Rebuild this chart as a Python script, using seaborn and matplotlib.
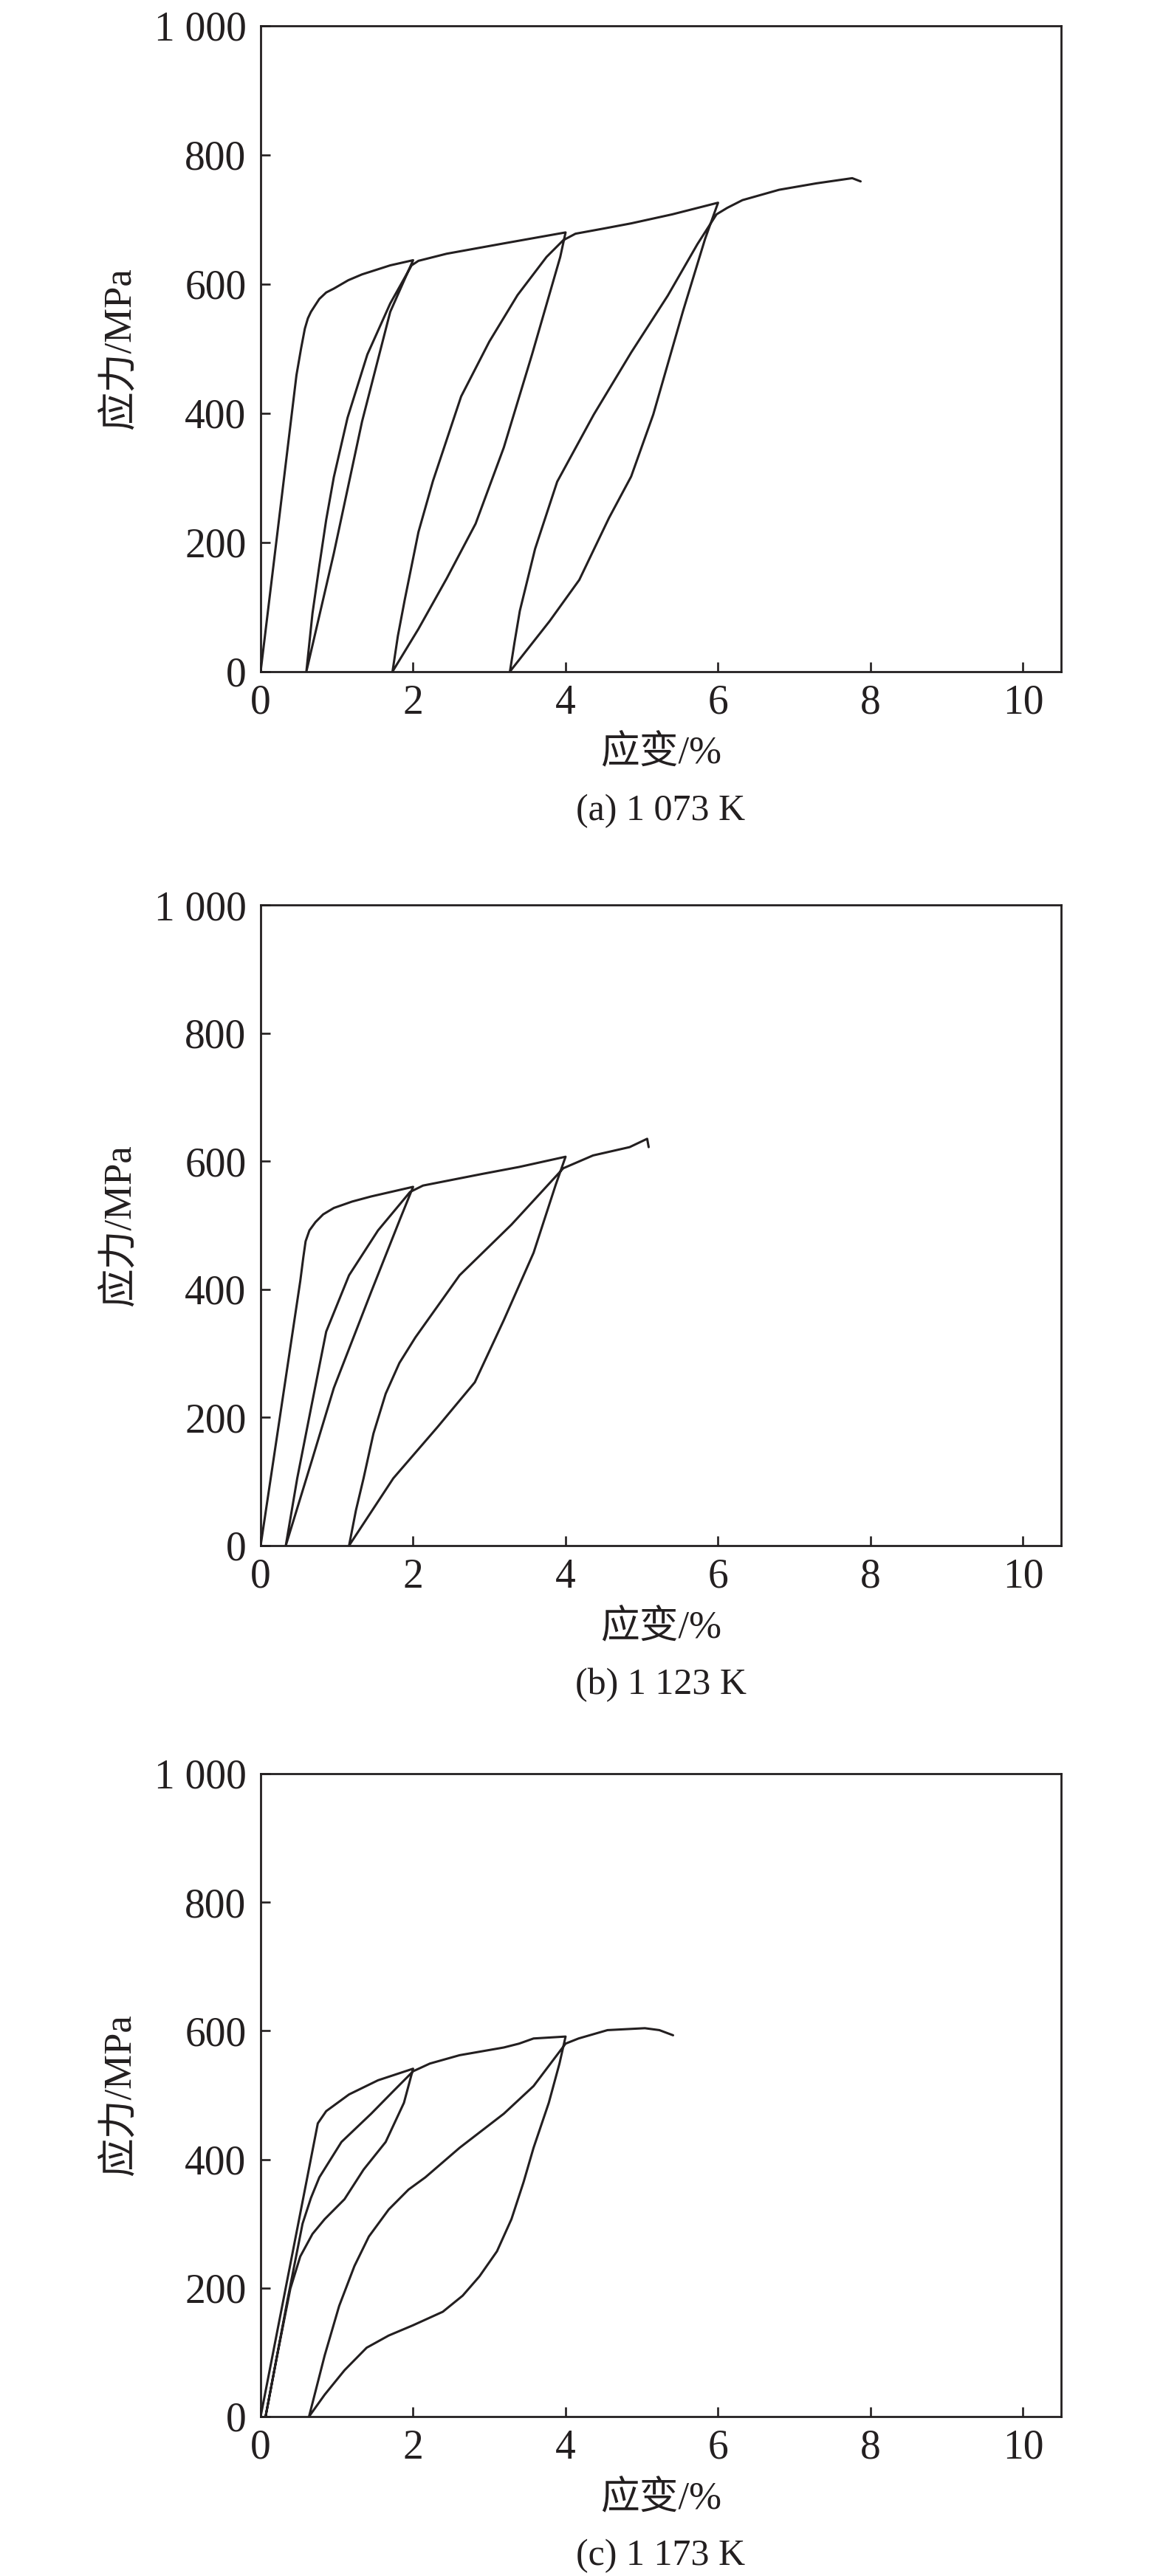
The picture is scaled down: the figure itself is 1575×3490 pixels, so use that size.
import numpy as np
import pandas as pd
import matplotlib
matplotlib.use('Agg')
import matplotlib.pyplot as plt
import seaborn as sns

# cyclic loading paths (strain %, stress MPa)
strain_a = [0, 0.47, 0.53, 0.58, 0.62, 0.66, 0.72, 0.77, 0.86, 0.96, 1.15, 1.33, 1.70, 2.0,
            1.70, 1.33, 0.96, 0.60,
            0.68, 0.77, 0.86, 0.96, 1.14, 1.40, 1.70, 1.98,
            2.07, 2.44, 3.19, 4.0,
            3.93, 3.56, 3.19, 2.82, 2.44, 2.07, 1.73,
            1.80, 1.89, 2.07, 2.26, 2.63, 3.0, 3.37, 3.75, 3.97,
            4.13, 4.5, 4.86, 5.4, 6.0,
            5.83, 5.54, 5.15, 4.86, 4.57, 4.18, 3.79, 3.27,
            3.33, 3.40, 3.6, 3.89, 4.37, 4.86, 5.34, 5.73, 5.98,
            6.12, 6.32, 6.8, 7.29, 7.76, 7.87]
stress_a = [0, 459, 500, 531, 547, 557, 568, 577, 587, 593, 606, 615, 629, 637,
            557, 387, 183, 0,
            90, 164, 235, 301, 393, 491, 570, 629,
            636, 647, 663, 680,
            642, 491, 347, 229, 144, 66, 0,
            55, 111, 216, 295, 426, 511, 583, 642, 668,
            678, 686, 694, 708, 726,
            670, 558, 398, 302, 238, 142, 78, 0,
            45, 94, 190, 294, 398, 494, 582, 662, 708,
            718, 730, 746, 756, 764, 759]

strain_b = [0, 0.52, 0.56, 0.59, 0.64, 0.72, 0.82, 0.96, 1.20, 1.45, 2.0,
            1.83, 1.45, 0.96, 0.67, 0.33,
            0.48, 0.67, 0.86, 1.16, 1.54, 1.96,
            2.13, 2.9, 3.39, 4.0,
            3.87, 3.58, 3.19, 2.81, 2.32, 1.74, 1.16,
            1.25, 1.35, 1.48, 1.64, 1.82, 2.03, 2.61, 3.29, 3.97,
            4.36, 4.84, 5.07, 5.09]
stress_b = [0, 413, 450, 475, 492, 505, 517, 527, 537, 545, 560,
            510, 396, 246, 132, 0,
            105, 220, 334, 422, 492, 552,
            562, 580, 591, 607,
            563, 457, 352, 255, 185, 105, 0,
            55, 105, 175, 237, 285, 325, 422, 501, 589,
            609, 622, 635, 622]

strain_c = [0, 0.75, 0.86, 1.16, 1.54, 2.0,
            1.88, 1.64, 1.35, 1.10, 0.84, 0.68, 0.52, 0.39, 0.23, 0.065,
            0.35, 0.55, 0.66, 0.77, 1.06, 1.45, 1.74, 2.0,
            2.22, 2.61, 3.19, 3.39, 3.58, 4.0,
            3.92, 3.78, 3.58, 3.45, 3.29, 3.10, 2.87, 2.65, 2.39, 2.0, 1.68, 1.39, 1.10, 0.84, 0.635,
            0.84, 1.03, 1.23, 1.42, 1.68, 1.94, 2.16, 2.61, 3.19, 3.58, 4.0,
            4.17, 4.55, 5.04, 5.23, 5.41]
stress_c = [0, 456, 475, 501, 523, 541,
            488, 427, 384, 338, 307, 284, 249, 199, 103, 0,
            180, 300, 340, 372, 427, 471, 506, 537,
            549, 562, 574, 580, 588, 591,
            549, 488, 418, 365, 307, 257, 218, 188, 163, 142, 126, 107, 72, 34, 0,
            95, 172, 234, 280, 322, 353, 372, 418, 471, 514, 580,
            588, 601, 604, 601, 593]

captions = ['(a) 1 073 K', '(b) 1 123 K', '(c) 1 173 K']
x_ticks = [0, 2, 4, 6, 8, 10]
y_ticks = [0, 200, 400, 600, 800, 1000]
y_ticklabels = ['0', '200', '400', '600', '800', '1 000']

sns.set_style('ticks')
plt.rcParams['font.family'] = ['Liberation Serif', 'Noto Sans CJK SC', 'DejaVu Sans']

ink = '#231f20'
fig = plt.figure(figsize=(15.75, 34.9), dpi=100)

# axes boxes in figure fractions
boxes = [[0.2241, 0.7393, 0.6883, 0.2507],
         [0.2241, 0.4000, 0.6883, 0.2487],
         [0.2241, 0.0619, 0.6883, 0.2496]]
paths = [(strain_a, stress_a), (strain_b, stress_b), (strain_c, stress_c)]

for box, (sx, sy), cap in zip(boxes, paths, captions):
    ax = fig.add_axes(box)
    df = pd.DataFrame({'strain': sx, 'stress': sy})
    sns.lineplot(data=df, x='strain', y='stress', sort=False, estimator=None,
                 color=ink, lw=2.2, ax=ax)
    ax.set_xlim(0, 10.5)
    ax.set_ylim(0, 1000)
    ax.set_xticks(x_ticks)
    ax.set_xticklabels([str(t) for t in x_ticks])
    ax.set_yticks(y_ticks)
    ax.set_yticklabels(y_ticklabels)
    ax.tick_params(direction='in', length=9.5, width=1.9, colors=ink,
                   labelsize=40, top=False, right=False)
    ax.tick_params(axis='x', pad=12)
    ax.tick_params(axis='y', pad=14)
    for sp in ax.spines.values():
        sp.set_visible(True)
        sp.set_linewidth(2.0)
        sp.set_color(ink)
    ax.set_xlabel('')
    ax.set_ylabel('')
    ax.annotate('应力/MPa', xy=(0, 0.5), xycoords='axes fraction',
                xytext=(-137, 0), textcoords='offset points',
                rotation=90, ha='center', va='center', fontsize=38, color=ink)
    ax.annotate('应变/%', xy=(0.5, 0), xycoords='axes fraction',
                xytext=(0, -80), textcoords='offset points',
                ha='center', va='center', fontsize=38, color=ink)
    ax.annotate(cap, xy=(0.5, 0), xycoords='axes fraction',
                xytext=(0, -136), textcoords='offset points',
                ha='center', va='center', fontsize=36, color=ink)

fig.savefig('out.png', dpi=100, facecolor='white')
